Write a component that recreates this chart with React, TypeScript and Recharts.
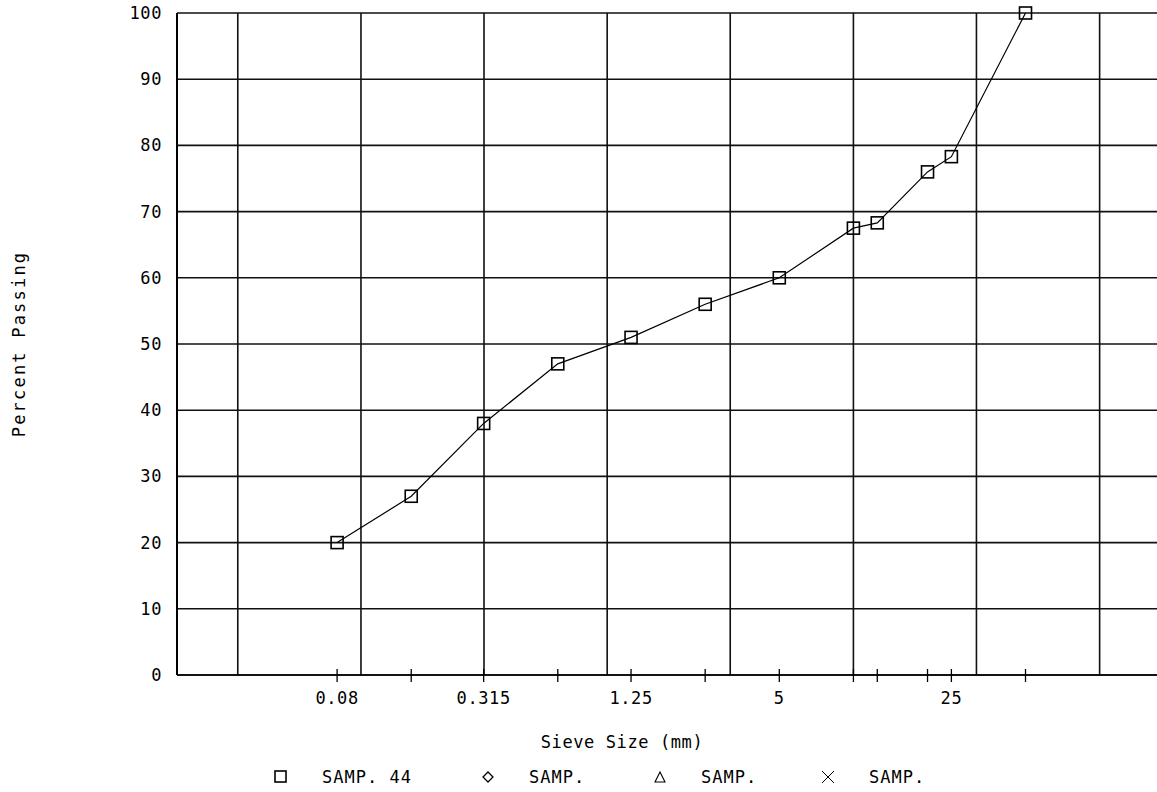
import React from 'react';
import { LineChart, Line, XAxis, YAxis, CartesianGrid, ReferenceLine, Legend } from 'recharts';

// sieve sizes (mm) and percent passing for SAMP. 44
const sieveSizes = [0.08, 0.16, 0.315, 0.63, 1.25, 2.5, 5, 10, 12.5, 20, 25, 50];
const percentPassing = [20, 27, 38, 47, 51, 56, 60, 67.5, 68.3, 76, 78.3, 100];

// tick marks on the x axis, only some of them get a label
const sieveTicks = [0.08, 0.16, 0.315, 0.63, 1.25, 2.5, 5, 10, 12.5, 20, 25, 50];
const sieveLabels = ['0.08', '0.315', '1.25', '5', '25'];

// vertical grid lines every half decade
const gridSizes = [0.0316, 0.1, 0.316, 1, 3.16, 10, 31.6, 100];

const yTicks = [0, 10, 20, 30, 40, 50, 60, 70, 80, 90, 100];

const legendNames = ['SAMP. 44', 'SAMP.', 'SAMP.', 'SAMP.'];
const legendSymbols = ['square', 'diamond', 'triangle', 'cross'];

const FONT = '"DejaVu Sans Mono", monospace';

const chartData = sieveSizes.map((size, i) => ({ size, passing: percentPassing[i] }));

const SieveTick = (props: any) => {
  const { x, y, payload } = props;
  const label = sieveLabels.find(l => Number(l) === payload.value);
  return (
    <g>
      <line x1={x} x2={x} y1={y - 6} y2={y + 7} stroke="#000" strokeWidth={1.3} />
      {label && (
        <text x={x} y={y + 23} textAnchor="middle" dominantBaseline="central" fill="#000"
          fontFamily={FONT} fontSize={17} letterSpacing={0.6}>
          {label}
        </text>
      )}
    </g>
  );
};

const SquareDot = (props: any) => {
  const { cx, cy } = props;
  if (cx == null || cy == null) return null;
  return <rect x={cx - 6} y={cy - 6} width={12} height={12} fill="none" stroke="#000" strokeWidth={1.6} />;
};

const YTitle = (props: any) => {
  const { viewBox } = props;
  const cx = viewBox.x + 19;
  const cy = viewBox.y + viewBox.height / 2;
  return (
    <text x={cx} y={cy} transform={`rotate(-90 ${cx} ${cy})`} textAnchor="middle" dominantBaseline="central"
      fill="#000" fontFamily={FONT} fontSize={17} letterSpacing={2.2}>
      Percent Passing
    </text>
  );
};

const LegendSymbol = ({ kind }: { kind: string }) => (
  <svg width={16} height={16} style={{ display: 'block' }}>
    {kind === 'square' && <rect x={2} y={2} width={11} height={11} fill="none" stroke="#000" strokeWidth={1.6} />}
    {kind === 'diamond' && <polygon points="8,3 13,8 8,13 3,8" fill="none" stroke="#000" strokeWidth={1.3} />}
    {kind === 'triangle' && <polygon points="8,3 13,13 3,13" fill="none" stroke="#000" strokeWidth={1.1} />}
    {kind === 'cross' && (
      <g stroke="#000" strokeWidth={1}>
        <line x1={2} y1={2} x2={14} y2={14} />
        <line x1={14} y1={2} x2={2} y2={14} />
      </g>
    )}
  </svg>
);

const itemWidths = [207, 172, 168, 200];

const renderLegend = () => (
  <div style={{ height: 30, display: 'flex', alignItems: 'center', paddingLeft: 273, fontFamily: FONT, fontSize: 17, letterSpacing: 1, color: '#000' }}>
    {legendNames.map((name, i) => (
      <div key={i} style={{ width: itemWidths[i], display: 'flex', alignItems: 'center' }}>
        <LegendSymbol kind={legendSymbols[i]} />
        <span style={{ marginLeft: 33, whiteSpace: 'pre' }}>{name}</span>
      </div>
    ))}
  </div>
);

export default function App() {
  return (
    <div style={{ position: 'absolute', left: 0, top: 0, width: 1157, height: 792, background: '#fff', overflow: 'hidden' }}>
      <LineChart width={1157} height={792} data={chartData} margin={{ top: 13, right: 0, left: 0, bottom: 0 }}>
        <CartesianGrid vertical={false} stroke="#111" strokeWidth={1.6} />
        {gridSizes.map(g => (
          <ReferenceLine key={g} x={g} stroke="#111" strokeWidth={1.6} />
        ))}
        <XAxis
          dataKey="size"
          type="number"
          scale="log"
          domain={[0.0179, 171]}
          allowDataOverflow
          ticks={sieveTicks}
          tick={<SieveTick />}
          tickLine={false}
          tickSize={0}
          tickMargin={0}
          interval={0}
          height={87}
          axisLine={{ stroke: '#000', strokeWidth: 1.6 }}
          label={{ value: 'Sieve Size (mm)', position: 'insideBottom', offset: 14, dx: -45, fill: '#000', fontFamily: FONT, fontSize: 17, letterSpacing: 0.6 }}
        />
        <YAxis
          type="number"
          domain={[0, 100]}
          ticks={yTicks}
          interval={0}
          width={177}
          tickLine={false}
          tickSize={0}
          tickMargin={15}
          axisLine={{ stroke: '#000', strokeWidth: 2 }}
          tick={{ fill: '#000', fontFamily: FONT, fontSize: 17, letterSpacing: 0.6 }}
          label={<YTitle />}
        />
        <Legend verticalAlign="bottom" height={30} content={renderLegend} wrapperStyle={{ left: 0, width: 1157 }} />
        <Line
          type="linear"
          dataKey="passing"
          name="SAMP. 44"
          stroke="#000"
          strokeWidth={1.2}
          dot={<SquareDot />}
          activeDot={false}
          isAnimationActive={false}
        />
      </LineChart>
    </div>
  );
}
